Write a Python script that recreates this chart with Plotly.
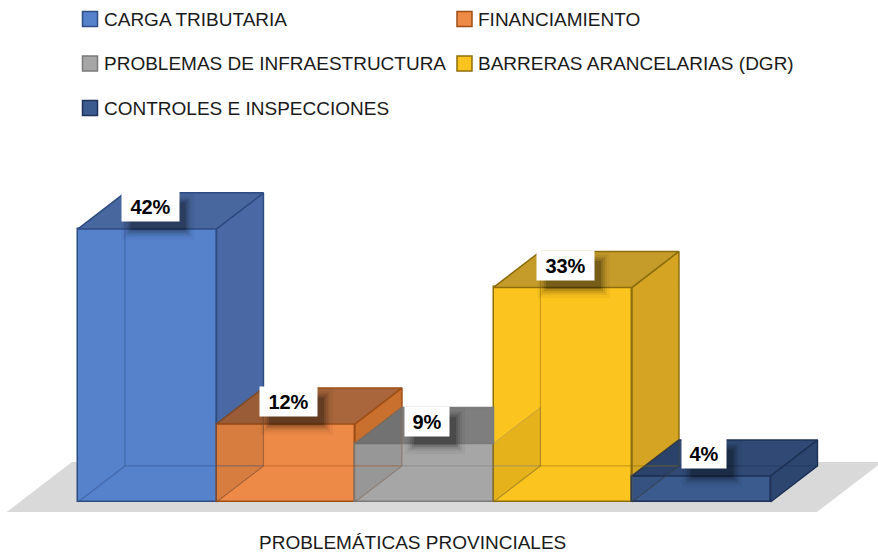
import plotly.graph_objects as go

# data
categories = ['CARGA TRIBUTARIA', 'FINANCIAMIENTO', 'PROBLEMAS DE INFRAESTRUCTURA',
              'BARRERAS ARANCELARIAS (DGR)', 'CONTROLES E INSPECCIONES']
values = [42, 12, 9, 33, 4]
axis_title = 'PROBLEMÁTICAS PROVINCIALES'

# colours per category: front face, right face, top face, edges
front_colors = ['#5682CC', '#EE8A47', '#A6A6A6', '#FCC41F', '#3B5B8E']
side_colors = ['#4A68A3', '#C9702F', '#8C8C8C', '#D4A422', '#2D4670']
top_colors = ['#48679F', '#A9663C', '#7E7E7E', '#C59C2A', '#304A75']
edge_colors = ['#2E4C82', '#9E4F16', '#7A7A7A', '#8D6D0C', '#1E3257']

W, H = 878, 554
DX, DY = 0.339, 5.54      # oblique depth of the 3D columns (x units, y units)
FONT = 'Liberation Sans'
TEXT_COLOR = '#1a1a1a'


def rgba(hex_color, a):
    h = hex_color.lstrip('#')
    r, g, b = int(h[0:2], 16), int(h[2:4], 16), int(h[4:6], 16)
    return f'rgba({r},{g},{b},{a})'


fig = go.Figure()


def add_poly(pts, fill, line_color, width=1.5):
    xs = [p[0] for p in pts] + [pts[0][0]]
    ys = [p[1] for p in pts] + [pts[0][1]]
    fig.add_trace(go.Scatter(
        x=xs, y=ys, mode='lines', fill='toself', fillcolor=fill,
        line=dict(color=line_color, width=width),
        hoverinfo='skip', showlegend=False
    ))


n = len(values)

# front faces of the columns
fig.add_trace(go.Bar(
    x=[i + 0.5 for i in range(n)],
    y=values,
    width=1,
    marker=dict(color=front_colors, line=dict(color=edge_colors, width=1.5)),
    hovertext=categories,
    hoverinfo='text+y',
    showlegend=False
))

# right and top faces (only the parts that are not hidden by the next column)
for i, v in enumerate(values):
    nxt = values[i + 1] if i < n - 1 else 0
    if nxt < v:
        add_poly([(i + 1, nxt), (i + 1 + DX, nxt + DY), (i + 1 + DX, v + DY), (i + 1, v)],
                 side_colors[i], edge_colors[i])
    if i < n - 1 and nxt > v:
        top = [(i, v), (i + 1, v), (i + 1, v + DY), (i + DX, v + DY)]
    else:
        top = [(i, v), (i + 1, v), (i + 1 + DX, v + DY), (i + DX, v + DY)]
    add_poly(top, top_colors[i], edge_colors[i])

# hidden right faces seen through the translucent next column
for i in range(n - 1):
    h = min(values[i], values[i + 1])
    add_poly([(i + 1, 0), (i + 1 + DX, DY), (i + 1 + DX, h + DY), (i + 1, h)],
             'rgba(0,0,0,0.09)', rgba(edge_colors[i], 0.35), 1)

# inner back edges seen through the front faces
for i, v in enumerate(values):
    fig.add_trace(go.Scatter(
        x=[i, i + DX, i + 1 + DX, None, i + DX, i + DX],
        y=[0, DY, DY, None, DY, v + DY],
        mode='lines', line=dict(color=rgba(edge_colors[i], 0.45), width=1.2),
        hoverinfo='skip', showlegend=False
    ))

# floor of the 3D chart
z0, z1 = -0.28, 1.11
fl, fr = -0.42, n + 0.43
floor = [(fl + z0 * DX, z0 * DY), (fr + z0 * DX, z0 * DY),
         (fr + z1 * DX, z1 * DY), (fl + z1 * DX, z1 * DY)]
fig.add_shape(
    type='path', xref='x', yref='y', layer='below',
    path='M ' + ' L '.join(f'{x},{y}' for x, y in floor) + ' Z',
    fillcolor='#D9D9D9', line=dict(width=0)
)

# data labels with a soft shadow
for i, v in enumerate(values):
    txt = f'{v}%'
    bw = 13 * len(txt) + 10
    ax, ay = i + 0.52, v + 0.62 * DY
    hw, hh = (bw + 6) / 2, 14
    for k, a in [(0, 0.16), (2, 0.12), (4, 0.09), (6, 0.06), (9, 0.04)]:
        fig.add_shape(
            type='rect', xref='x', yref='y', layer='above',
            xsizemode='pixel', ysizemode='pixel', xanchor=ax, yanchor=ay,
            x0=8 - hw - k, x1=8 + hw + k, y0=-10 - hh - k, y1=-10 + hh + k,
            fillcolor=f'rgba(0,0,0,{a})', line=dict(width=0)
        )
    fig.add_annotation(
        x=ax, y=ay, xref='x', yref='y', text=f'<b>{txt}</b>', showarrow=False,
        font=dict(family=FONT, size=20, color='black'),
        bgcolor='white', width=bw, height=21, borderpad=4,
        xanchor='center', yanchor='middle'
    )

# legend (two columns)
for i, name in enumerate(categories):
    col, row = i % 2, i // 2
    sx = 82.5 + col * 374.5
    cy = 19 + row * 44.5
    fig.add_shape(
        type='rect', xref='paper', yref='paper',
        x0=sx / W, x1=(sx + 15) / W, y0=1 - (cy + 7.5) / H, y1=1 - (cy - 7.5) / H,
        fillcolor=front_colors[i], line=dict(color=edge_colors[i], width=1.5)
    )
    fig.add_annotation(
        x=(sx + 19) / W, y=1 - cy / H, xref='paper', yref='paper',
        text=name, showarrow=False, xanchor='left', yanchor='middle',
        font=dict(family=FONT, size=19, color=TEXT_COLOR)
    )

# category axis title
fig.add_annotation(
    x=412 / W, y=1 - 542 / H, xref='paper', yref='paper',
    text=axis_title, showarrow=False, xanchor='center', yanchor='middle',
    font=dict(family=FONT, size=19, color=TEXT_COLOR)
)

fig.update_layout(
    width=W, height=H,
    margin=dict(l=0, r=0, t=0, b=0),
    paper_bgcolor='white', plot_bgcolor='white',
    xaxis=dict(range=[-78 / 138.5, 800 / 138.5], visible=False, fixedrange=True),
    yaxis=dict(range=[-8.0, 77.2], visible=False, fixedrange=True),
    showlegend=False,
    bargap=0
)

fig.write_html('out.html', config={'displayModeBar': False},
               post_script="document.body.style.margin='0';"
               "document.body.style.overflow='hidden';")
